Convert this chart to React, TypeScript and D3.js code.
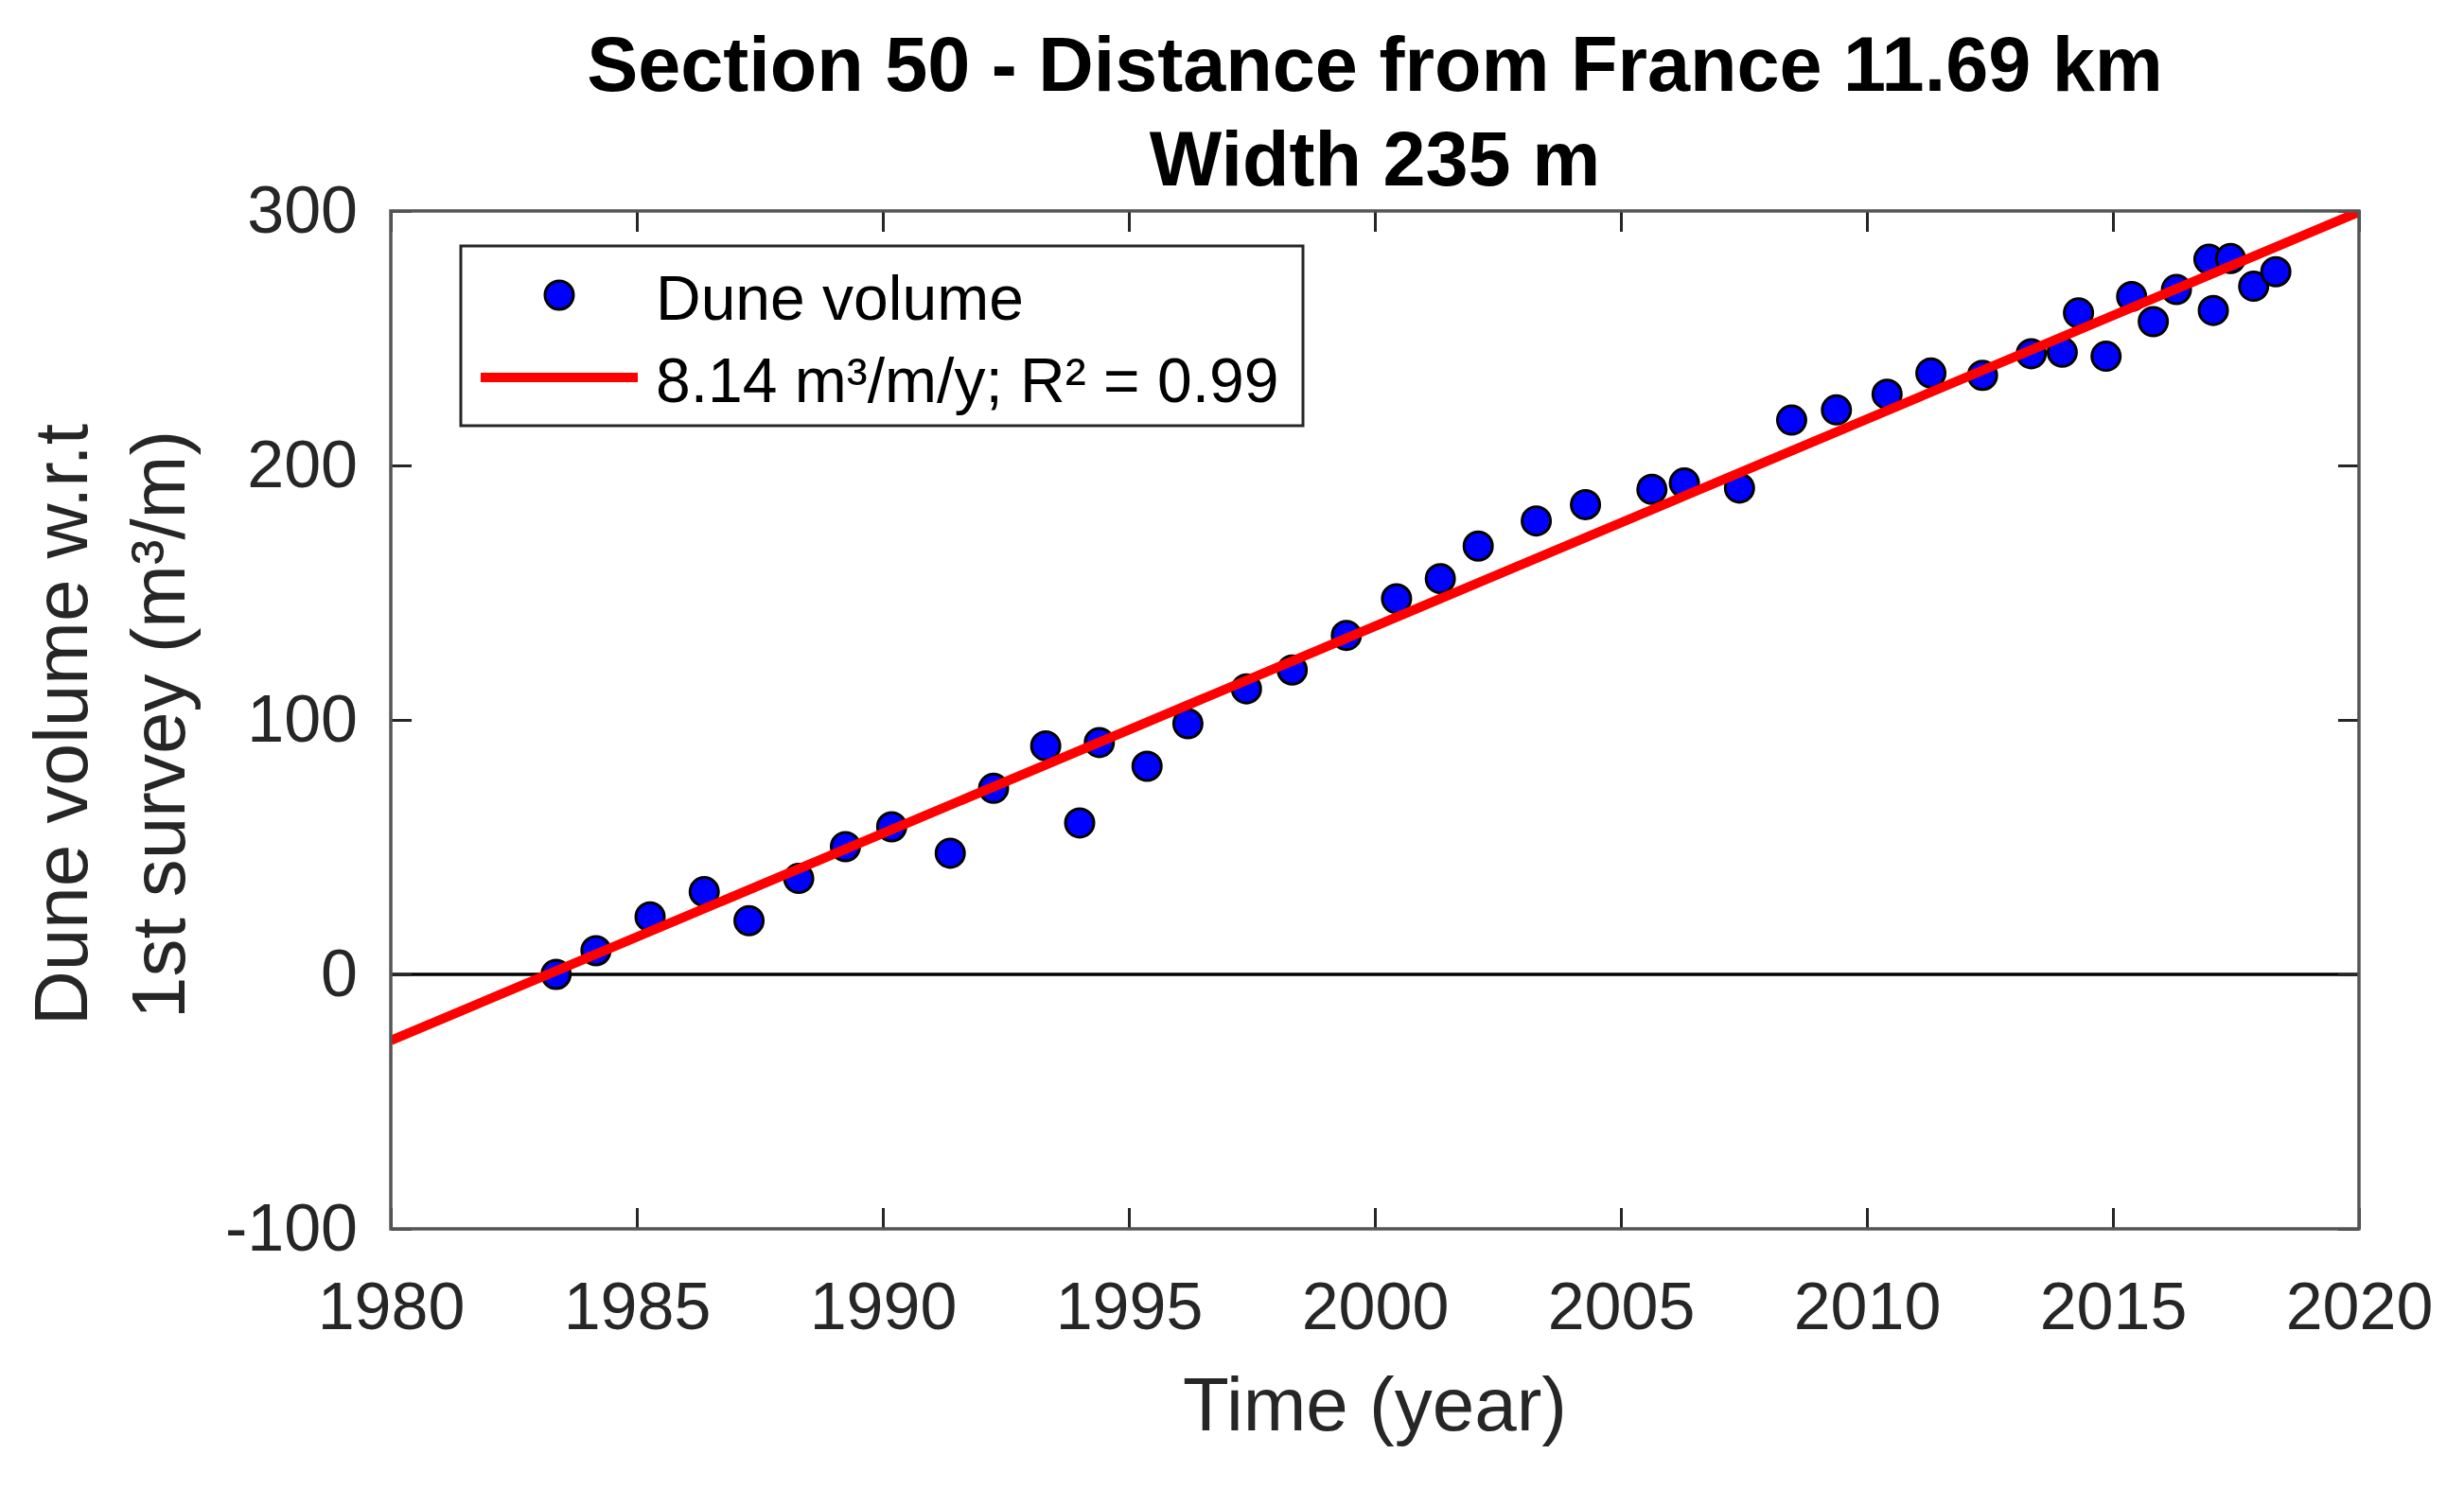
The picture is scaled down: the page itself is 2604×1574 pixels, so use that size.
import { useEffect, useRef } from "react";
import * as d3 from "d3";

const surveyYears = [
  1983.36, 1984.17, 1985.27, 1986.37, 1987.28, 1988.29, 1989.24, 1990.18, 1991.37, 1992.25,
  1993.31, 1994.0, 1994.4, 1995.37, 1996.2, 1997.39, 1998.32, 1999.42, 2000.44, 2001.33,
  2002.1, 2003.28, 2004.28, 2005.63, 2006.29, 2007.41, 2008.47, 2009.38, 2010.41, 2011.3,
  2012.35, 2013.34, 2013.97, 2014.3, 2014.86, 2015.38, 2015.82, 2016.29, 2016.95, 2017.04,
  2017.39, 2017.86, 2018.31,
];

const duneVolumes = [
  0, 9.3, 22.6, 32.5, 21.1, 37.7, 50.2, 58, 47.6, 73.1,
  89.8, 59.5, 91.1, 81.8, 98.5, 112.2, 119.6, 133.2, 147.6, 155.5,
  168.3, 178.2, 184.6, 190.6, 193.1, 191.1, 217.8, 221.8, 228, 236.3,
  235.4, 243.9, 244.5, 259.9, 242.9, 266.4, 256.5, 269.1, 281, 260.9,
  281.3, 270.4, 276.1,
];

// linear fit endpoints (8.14 m3/m/y)
const trendYears = [1980, 2020];
const trendValues = [-26, 299.6];

const xTicks = [1980, 1985, 1990, 1995, 2000, 2005, 2010, 2015, 2020];
const yTicks = [-100, 0, 100, 200, 300];

const titleLines = ["Section 50 - Distance from France 11.69 km", "Width 235 m"];
const yLabelLines = ["Dune volume w.r.t", "1st survey (m³/m)"];
const xLabel = "Time (year)";
const legendLabels = ["Dune volume", "8.14 m³/m/y; R² = 0.99"];

const FONT = "'Liberation Sans', Arial, Helvetica, sans-serif";
const WIDTH = 2604;
const HEIGHT = 1574;
const margin = { top: 223, right: 111, bottom: 275, left: 413 };

export default function App() {
  const svgRef = useRef<SVGSVGElement | null>(null);

  useEffect(() => {
    const svgElement = svgRef.current;
    if (!svgElement) return;

    const chartWidth = WIDTH - margin.left - margin.right;
    const chartHeight = HEIGHT - margin.top - margin.bottom;

    const x = d3.scaleLinear().domain([1980, 2020]).range([0, chartWidth]);
    const y = d3.scaleLinear().domain([-100, 300]).range([chartHeight, 0]);

    const svg = d3.select(svgElement);
    svg.selectAll("*").remove();

    svg.append("rect").attr("width", WIDTH).attr("height", HEIGHT).attr("fill", "#ffffff");

    const chart = svg.append("g").attr("transform", `translate(${margin.left}, ${margin.top})`);

    chart
      .append("defs")
      .append("clipPath")
      .attr("id", "plot-clip")
      .append("rect")
      .attr("width", chartWidth)
      .attr("height", chartHeight);

    // zero line
    chart
      .append("line")
      .attr("x1", 0)
      .attr("x2", chartWidth)
      .attr("y1", y(0))
      .attr("y2", y(0))
      .attr("stroke", "#000000")
      .attr("stroke-width", 3.5);

    const styleAxis = (g: d3.Selection<SVGGElement, unknown, null, undefined>, showLabels: boolean) => {
      g.select(".domain").remove();
      g.selectAll(".tick line").attr("stroke", "#262626").attr("stroke-width", 3);
      g.selectAll("text")
        .attr("font-family", FONT)
        .attr("font-size", 70)
        .attr("fill", "#262626");
      if (!showLabels) g.selectAll("text").remove();
    };

    const plain = (d: d3.NumberValue) => String(d);

    chart
      .append("g")
      .attr("transform", `translate(0, ${chartHeight})`)
      .call(d3.axisBottom(x).tickValues(xTicks).tickFormat(plain).tickSize(-22).tickPadding(56))
      .call((g) => styleAxis(g, true));

    chart
      .append("g")
      .call(d3.axisTop(x).tickValues(xTicks).tickSize(-22))
      .call((g) => styleAxis(g, false));

    chart
      .append("g")
      .call(d3.axisLeft(y).tickValues(yTicks).tickFormat(plain).tickSize(-22).tickPadding(35))
      .call((g) => styleAxis(g, true));

    chart
      .append("g")
      .attr("transform", `translate(${chartWidth}, 0)`)
      .call(d3.axisRight(y).tickValues(yTicks).tickSize(-22))
      .call((g) => styleAxis(g, false));

    // points
    const points = surveyYears.map((year, i) => ({ year, volume: duneVolumes[i] }));
    const plot = chart.append("g").attr("clip-path", "url(#plot-clip)");

    plot
      .selectAll("circle")
      .data(points)
      .join("circle")
      .attr("cx", (d) => x(d.year))
      .attr("cy", (d) => y(d.volume))
      .attr("r", 15)
      .attr("fill", "#0000ff")
      .attr("stroke", "#000000")
      .attr("stroke-width", 3);

    const trend = trendYears.map((year, i) => [year, trendValues[i]] as [number, number]);
    plot
      .append("path")
      .datum(trend)
      .attr("d", d3.line<[number, number]>().x((d) => x(d[0])).y((d) => y(d[1])))
      .attr("fill", "none")
      .attr("stroke", "#ff0000")
      .attr("stroke-width", 10);

    // box
    chart
      .append("rect")
      .attr("width", chartWidth)
      .attr("height", chartHeight)
      .attr("fill", "none")
      .attr("stroke", "#555555")
      .attr("stroke-width", 3.5);

    // legend
    const legend = svg.append("g").attr("transform", "translate(487, 260)");
    legend
      .append("rect")
      .attr("width", 890)
      .attr("height", 190)
      .attr("fill", "#ffffff")
      .attr("stroke", "#262626")
      .attr("stroke-width", 3);
    legend
      .append("circle")
      .attr("cx", 104)
      .attr("cy", 52)
      .attr("r", 15)
      .attr("fill", "#0000ff")
      .attr("stroke", "#000000")
      .attr("stroke-width", 3);
    legend
      .append("line")
      .attr("x1", 21)
      .attr("x2", 187)
      .attr("y1", 139)
      .attr("y2", 139)
      .attr("stroke", "#ff0000")
      .attr("stroke-width", 10);
    legendLabels.forEach((label, i) => {
      legend
        .append("text")
        .attr("x", 206)
        .attr("y", i === 0 ? 78 : 165)
        .attr("font-family", FONT)
        .attr("font-size", 66)
        .attr("fill", "#000000")
        .text(label);
    });

    // title
    titleLines.forEach((line, i) => {
      svg
        .append("text")
        .attr("x", margin.left + chartWidth / 2)
        .attr("y", 96 + i * 100)
        .attr("text-anchor", "middle")
        .attr("font-family", FONT)
        .attr("font-size", 81)
        .attr("font-weight", 700)
        .attr("fill", "#000000")
        .text(line);
    });

    // axis labels
    svg
      .append("text")
      .attr("x", margin.left + chartWidth / 2)
      .attr("y", 1512)
      .attr("text-anchor", "middle")
      .attr("font-family", FONT)
      .attr("font-size", 80)
      .attr("fill", "#262626")
      .text(xLabel);

    yLabelLines.forEach((line, i) => {
      svg
        .append("text")
        .attr("transform", `translate(${92 + i * 103}, ${margin.top + chartHeight / 2 + 5}) rotate(-90)`)
        .attr("text-anchor", "middle")
        .attr("font-family", FONT)
        .attr("font-size", 80)
        .attr("fill", "#262626")
        .text(line);
    });
  }, []);

  return (
    <div style={{ position: "absolute", left: 0, top: 0 }}>
      <svg ref={svgRef} width={WIDTH} height={HEIGHT} style={{ display: "block" }} />
    </div>
  );
}
